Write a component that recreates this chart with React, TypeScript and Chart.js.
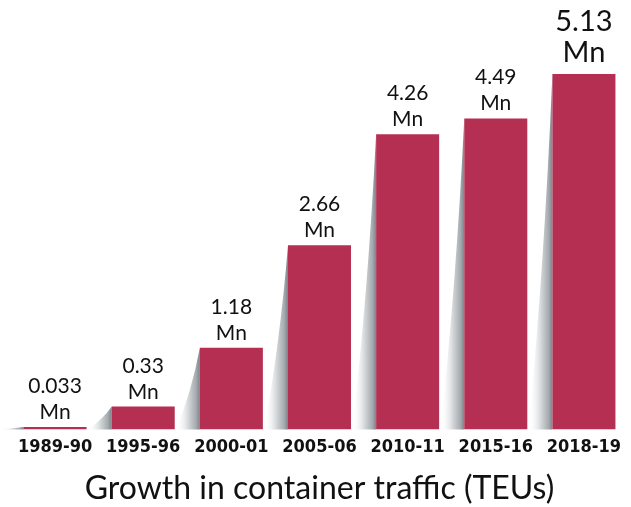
import React, { useEffect, useRef } from "react";
import { Chart, registerables } from "chart.js";

Chart.register(...registerables);

const categories = ["1989-90", "1995-96", "2000-01", "2005-06", "2010-11", "2015-16", "2018-19"];
const values = [0.033, 0.33, 1.18, 2.66, 4.26, 4.49, 5.13];
const valueLabels = ["0.033", "0.33", "1.18", "2.66", "4.26", "4.49", "5.13"];
const unitLabel = "Mn";
const titleText = "Growth in container traffic (TEUs)";

const BAR_COLOR = "#b52f52";

const shadowPlugin = {
  id: "barShadow",
  beforeDatasetsDraw(chart: any) {
    const ctx = chart.ctx;
    const meta = chart.getDatasetMeta(0);
    meta.data.forEach((bar: any) => {
      const { x, y, base, width } = bar.getProps(["x", "y", "base", "width"], true);
      const x0 = x - width / 2;
      const spread = 24;
      const g = ctx.createLinearGradient(x0 - spread, 0, x0, 0);
      g.addColorStop(0, "rgba(255,255,255,0)");
      g.addColorStop(0.45, "#dfe1e3");
      g.addColorStop(0.85, "#a3a9ad");
      g.addColorStop(1, "#7c848a");
      ctx.save();
      ctx.beginPath();
      ctx.moveTo(x0, y);
      ctx.lineTo(x0, base);
      ctx.lineTo(x0 - spread, base);
      ctx.quadraticCurveTo(x0 - spread * 0.35, base - (base - y) * 0.45, x0, y);
      ctx.closePath();
      ctx.fillStyle = g;
      ctx.fill();
      ctx.restore();
    });
  },
  afterDatasetsDraw(chart: any) {
    const ctx = chart.ctx;
    const meta = chart.getDatasetMeta(0);
    meta.data.forEach((bar: any, i: number) => {
      const { x, y } = bar.getProps(["x", "y"], true);
      const last = i === meta.data.length - 1;
      const size = last ? 29 : 21;
      const gap = last ? 31 : 26;
      ctx.save();
      ctx.fillStyle = "#111";
      ctx.textAlign = "center";
      ctx.textBaseline = "alphabetic";
      ctx.font = `${size}px Lato, "Noto Sans", sans-serif`;
      const baseY = y - (last ? 12 : 8);
      ctx.fillText(unitLabel, x, baseY);
      ctx.fillText(valueLabels[i], x, baseY - gap);
      ctx.restore();
    });
  },
};

export default function App() {
  const ref = useRef<HTMLCanvasElement | null>(null);
  useEffect(() => {
    document.body.style.margin = "0";
    const canvas = ref.current;
    if (!canvas) return;
    const chart = new Chart(canvas, {
      type: "bar",
      data: {
        labels: categories,
        datasets: [
          {
            data: values,
            backgroundColor: BAR_COLOR,
            borderWidth: 0,
            barPercentage: 0.715,
            categoryPercentage: 1,
          },
        ],
      },
      options: {
        responsive: false,
        animation: false,
        devicePixelRatio: 1,
        layout: { padding: { left: 11, right: 3, top: 0, bottom: 0 } },
        plugins: {
          legend: { display: false },
          tooltip: { enabled: false },
        },
        scales: {
          x: {
            grid: { display: false, drawTicks: false },
            border: { display: false },
            ticks: {
              color: "#111",
              padding: 8,
              maxRotation: 0,
              minRotation: 0,
              autoSkip: false,
              font: { family: '"DejaVu Sans Condensed", sans-serif', size: 18, weight: "bold", lineHeight: 1.1 },
            },
            title: {
              display: true,
              text: titleText,
              color: "#111",
              padding: { top: 5, bottom: 0 },
              font: { family: 'Lato, "Noto Sans", sans-serif', size: 32, weight: "normal", lineHeight: 1.15 },
            },
          },
          y: {
            display: false,
            min: 0,
            max: 6.2,
          },
        },
      },
      plugins: [shadowPlugin],
    });
    return () => chart.destroy();
  }, []);
  return (
    <div style={{ width: 631, height: 507 }}>
      <canvas ref={ref} width={631} height={507} style={{ display: "block" }} />
    </div>
  );
}
